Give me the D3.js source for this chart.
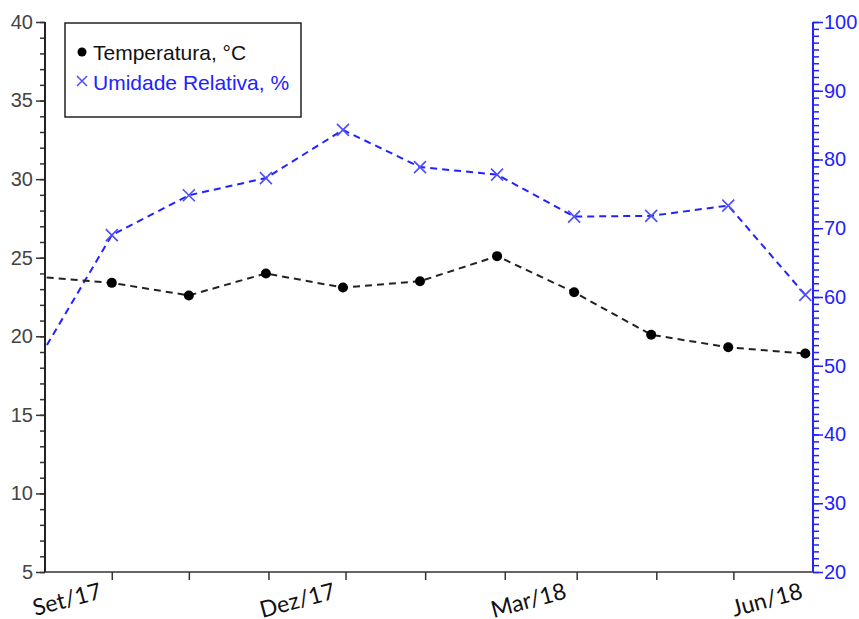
<!DOCTYPE html>
<html>
<head>
<meta charset="utf-8">
<script src="https://cdn.jsdelivr.net/npm/d3@7"></script>
<style>
  html, body { margin: 0; padding: 0; background: #fff; }
  svg { display: block; }
</style>
</head>
<body>
<svg id="chart" width="859" height="619"></svg>
<script>
// Monthly observation dates (first point lies just left of the plotted window)
const dates = ["2017-08-02", "2017-09-01", "2017-10-01", "2017-10-31", "2017-11-30",
               "2017-12-30", "2018-01-29", "2018-02-28", "2018-03-30", "2018-04-29", "2018-05-29"];
// Mean air temperature, °C
const temperatura = [23.8, 23.4, 22.6, 24.0, 23.1, 23.5, 25.1, 22.8, 20.1, 19.3, 18.9];
// Mean relative humidity, %
const umidade = [50.0, 69.0, 74.8, 77.3, 84.3, 78.9, 77.8, 71.7, 71.8, 73.3, 60.3];
// Labelled months on the time axis
const tickLabelDates = ["2017-09-01", "2017-12-01", "2018-03-01", "2018-06-01"];
const tickLabels = ["Set/17", "Dez/17", "Mar/18", "Jun/18"];
const xDomain = ["2017-08-06", "2018-06-01"];
const tempDomain = [5, 40];
const umidDomain = [20, 100];

(function () {
const parse = d3.utcParse("%Y-%m-%d");
const svg = d3.select("#chart");

const pL = 45, pR = 813, pT = 22, pB = 572;

const x = d3.scaleUtc().domain(xDomain.map(parse)).range([pL, pR]);
const yT = d3.scaleLinear().domain(tempDomain).range([pB, pT]);
const yU = d3.scaleLinear().domain(umidDomain).range([pB, pT]);

const axisFont = "'Liberation Sans', Arial, sans-serif";
const blue = "#2222ff";
const blueLight = "#4d4dff";

svg.append("defs").append("clipPath").attr("id", "plot-clip")
  .append("rect").attr("x", pL).attr("y", 0).attr("width", pR - pL).attr("height", 619);

// Left axis (temperature): minor ticks every degree, labelled every 5
const gL = svg.append("g").attr("transform", `translate(${pL},0)`)
  .call(d3.axisLeft(yT).tickValues(d3.range(5, 41, 1)).tickSize(5).tickFormat(""));
gL.selectAll(".tick line").attr("stroke", "#333").attr("stroke-width", 1.5);
const gLmaj = svg.append("g").attr("transform", `translate(${pL},0)`)
  .call(d3.axisLeft(yT).tickValues(d3.range(5, 41, 5)).tickSize(9).tickPadding(3));
gLmaj.selectAll(".tick line").attr("stroke", "#333").attr("stroke-width", 1.5);
gLmaj.selectAll(".tick text").attr("fill", "#444").style("font", `20px ${axisFont}`);

// Right axis (relative humidity)
const gR = svg.append("g").attr("transform", `translate(${pR},0)`)
  .call(d3.axisRight(yU).tickValues(d3.range(20, 101, 1)).tickSize(6).tickFormat(""));
gR.selectAll(".tick line").attr("stroke", blue).attr("stroke-width", 1.5);
const gRmaj = svg.append("g").attr("transform", `translate(${pR},0)`)
  .call(d3.axisRight(yU).tickValues(d3.range(20, 101, 10)).tickSize(10).tickPadding(1));
gRmaj.selectAll(".tick line").attr("stroke", blue).attr("stroke-width", 1.5);
gRmaj.selectAll(".tick text").attr("fill", blue).style("font", `20px ${axisFont}`);

// Bottom time axis: monthly ticks, quarterly labels
const monthTicks = d3.utcMonth.range(parse("2017-09-01"), parse("2018-06-01"));
const gB = svg.append("g").attr("transform", `translate(0,${pB})`)
  .call(d3.axisBottom(x).tickValues(monthTicks).tickSize(8).tickFormat(""));
gB.selectAll(".tick line").attr("stroke", "#333").attr("stroke-width", 1.5);

svg.selectAll(".domain").remove();
svg.append("line").attr("x1", pL).attr("x2", pR).attr("y1", pB).attr("y2", pB)
  .attr("stroke", "#333").attr("stroke-width", 1.5);
svg.append("line").attr("x1", pL).attr("x2", pL).attr("y1", pT).attr("y2", pB)
  .attr("stroke", "#222").attr("stroke-width", 2);
svg.append("line").attr("x1", pR).attr("x2", pR).attr("y1", pT).attr("y2", pB)
  .attr("stroke", blue).attr("stroke-width", 2);

svg.append("g").selectAll("text")
  .data(tickLabelDates)
  .join("text")
  .attr("transform", d => `translate(${x(parse(d)) - 9},598) rotate(-15)`)
  .attr("text-anchor", "end")
  .attr("fill", "#111")
  .style("font", "23px Lato, 'Open Sans', sans-serif")
  .text((d, i) => tickLabels[i]);

// Series
const pts = dates.map((d, i) => ({ date: parse(d), t: temperatura[i], u: umidade[i] }));
const plot = svg.append("g").attr("clip-path", "url(#plot-clip)");

plot.append("path")
  .datum(pts)
  .attr("fill", "none")
  .attr("stroke", blue)
  .attr("stroke-width", 2)
  .attr("stroke-dasharray", "7,5")
  .attr("d", d3.line().x(d => x(d.date)).y(d => yU(d.u)));

plot.append("path")
  .datum(pts)
  .attr("fill", "none")
  .attr("stroke", "#222")
  .attr("stroke-width", 2)
  .attr("stroke-dasharray", "7,5")
  .attr("d", d3.line().x(d => x(d.date)).y(d => yT(d.t)));

const inside = pts.filter(d => x(d.date) >= pL);

const xs = 6;
plot.append("g").selectAll("path")
  .data(inside)
  .join("path")
  .attr("d", d => {
    const cx = x(d.date), cy = yU(d.u);
    return `M${cx - xs},${cy - xs}L${cx + xs},${cy + xs}M${cx - xs},${cy + xs}L${cx + xs},${cy - xs}`;
  })
  .attr("stroke", blueLight)
  .attr("stroke-width", 1.6)
  .attr("fill", "none");

plot.append("g").selectAll("circle")
  .data(inside)
  .join("circle")
  .attr("cx", d => x(d.date))
  .attr("cy", d => yT(d.t))
  .attr("r", 5)
  .attr("fill", "#000");

// Legend
const lg = svg.append("g");
lg.append("rect").attr("x", 65).attr("y", 23).attr("width", 236).attr("height", 94)
  .attr("fill", "#fff").attr("stroke", "#222").attr("stroke-width", 1.5);
lg.append("circle").attr("cx", 82).attr("cy", 52).attr("r", 4.5).attr("fill", "#000");
lg.append("text").attr("x", 93).attr("y", 60).attr("fill", "#111")
  .style("font", `21px ${axisFont}`).text("Temperatura, °C");
lg.append("path").attr("d", "M77,76L87,86M77,86L87,76")
  .attr("stroke", blueLight).attr("stroke-width", 1.5);
lg.append("text").attr("x", 93).attr("y", 90).attr("fill", blue)
  .style("font", `21px ${axisFont}`).text("Umidade Relativa, %");
})();
</script>
</body>
</html>
